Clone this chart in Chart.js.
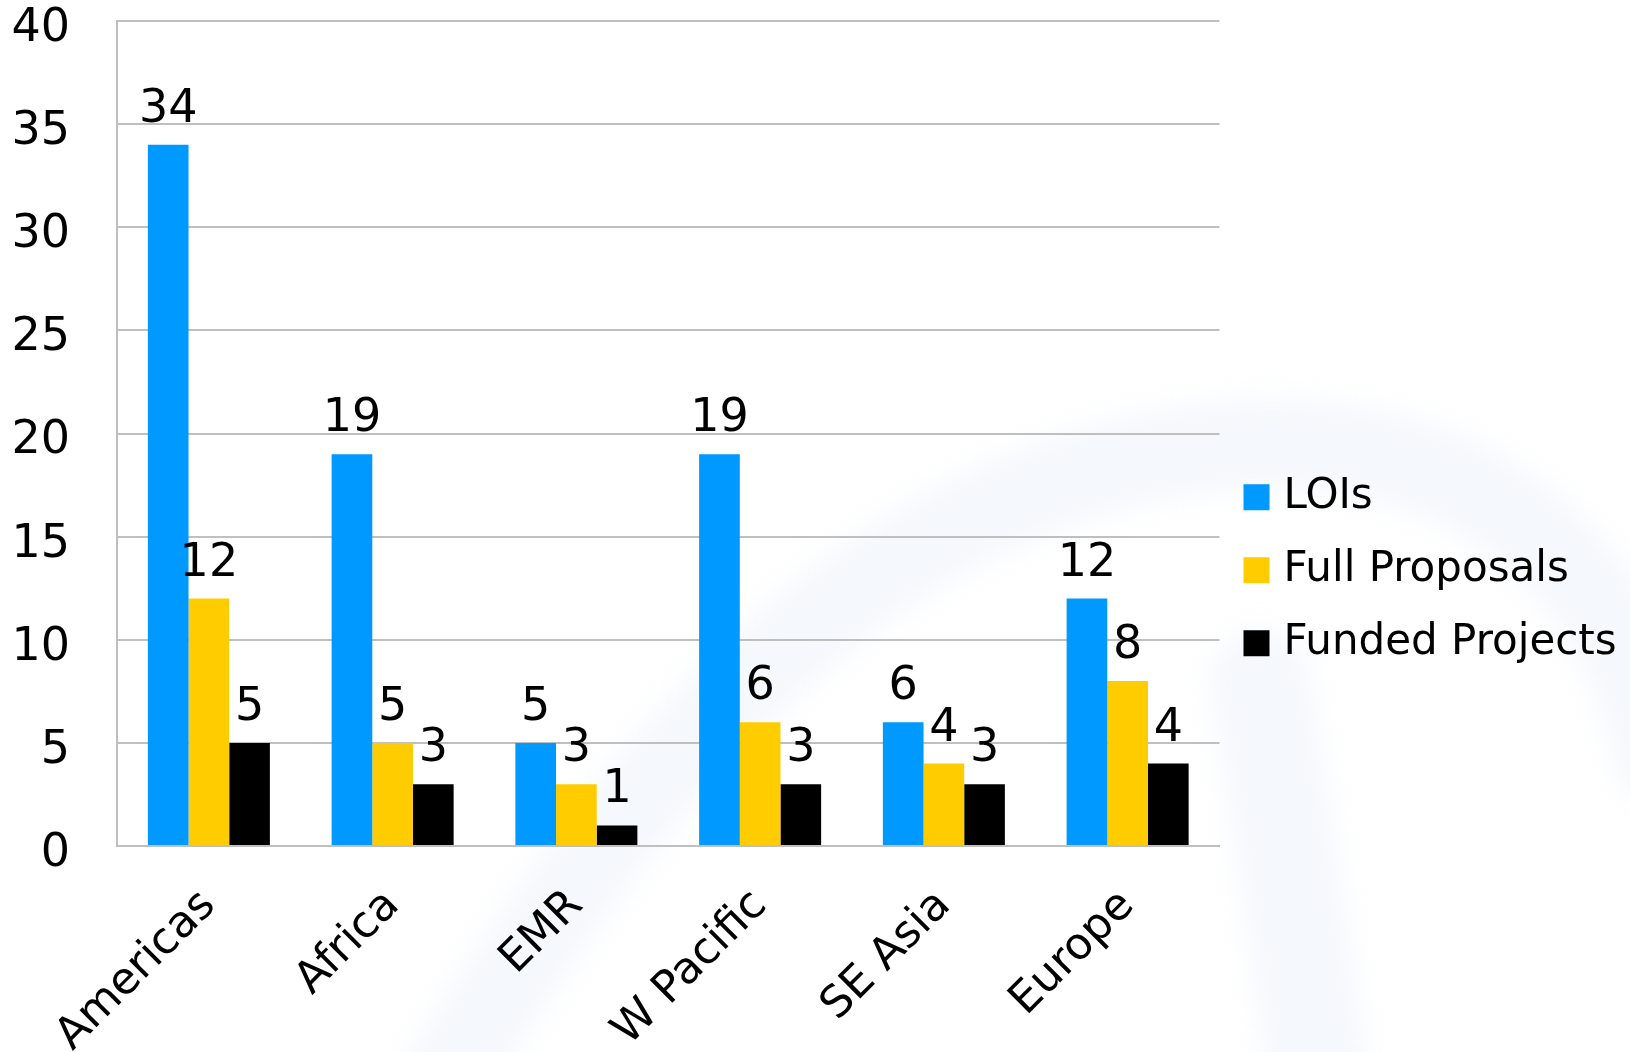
<!DOCTYPE html>
<html><head><meta charset="utf-8">
<script src="https://cdn.jsdelivr.net/npm/chart.js@4"></script>
<style>html,body{margin:0;padding:0;background:#fff;overflow:hidden}#wrap{width:1630px;height:1052px;position:relative}</style>
</head><body><div id="wrap"><canvas id="c" width="1630" height="1052"></canvas></div>
<script>
const categories = ['Americas', 'Africa', 'EMR', 'W Pacific', 'SE Asia', 'Europe'];
const seriesNames = ['LOIs', 'Full Proposals', 'Funded Projects'];
const lois = [34, 19, 5, 19, 6, 12];
const fullProposals = [12, 5, 3, 6, 4, 8];
const fundedProjects = [5, 3, 1, 3, 3, 4];
const seriesColors = ['#0099ff', '#ffcc00', '#000000'];
const yTicks = [0, 5, 10, 15, 20, 25, 30, 35, 40];

const FONT = '"DejaVu Sans", Verdana, sans-serif';

// faint background watermark (decoration only)
const watermark = {
  id: 'watermark',
  beforeDraw(chart) {
    const ctx = chart.ctx;
    ctx.save();
    ctx.filter = 'blur(14px)';
    ctx.strokeStyle = 'rgba(205,222,240,0.2)';
    ctx.lineCap = 'round';
    ctx.lineWidth = 90;
    ctx.beginPath();
    ctx.moveTo(440, 1090);
    ctx.bezierCurveTo(650, 740, 890, 470, 1240, 445);
    ctx.bezierCurveTo(1470, 432, 1620, 560, 1660, 760);
    ctx.stroke();
    ctx.lineWidth = 100;
    ctx.beginPath();
    ctx.moveTo(1260, 680);
    ctx.quadraticCurveTo(1290, 870, 1320, 1090);
    ctx.stroke();
    ctx.restore();
  }
};

const valueLabels = {
  id: 'valueLabels',
  afterDatasetsDraw(chart) {
    const ctx = chart.ctx;
    ctx.save();
    ctx.font = '46px ' + FONT;
    ctx.fillStyle = '#000';
    ctx.textAlign = 'center';
    ctx.textBaseline = 'alphabetic';
    chart.data.datasets.forEach((ds, i) => {
      chart.getDatasetMeta(i).data.forEach((el, j) => {
        ctx.fillText(String(ds.data[j]), el.x, el.y - 23);
      });
    });
    ctx.restore();
  }
};

const seriesData = [lois, fullProposals, fundedProjects];
new Chart(document.getElementById('c'), {
  type: 'bar',
  data: {
    labels: categories,
    datasets: seriesNames.map((n, i) => ({
      label: n,
      data: seriesData[i],
      backgroundColor: seriesColors[i],
      borderWidth: 0,
      categoryPercentage: 0.664,
      barPercentage: 1.0
    }))
  },
  options: {
    responsive: false,
    animation: false,
    devicePixelRatio: 1,
    layout: { padding: { top: 0, right: 4, bottom: 0, left: 0 } },
    plugins: {
      tooltip: { enabled: false },
      legend: {
        position: 'right',
        align: 'center',
        title: { display: true, text: ' ', padding: 37, font: { size: 12 } },
        labels: {
          usePointStyle: true, pointStyle: 'rect',
          boxWidth: 12, boxHeight: 26, padding: 31, color: '#000',
          font: { family: FONT, size: 42 }
        }
      }
    },
    scales: {
      x: {
        grid: { display: false, drawTicks: false },
        border: { display: true, color: '#bfbfbf', width: 2 },
        ticks: {
          color: '#000', font: { family: FONT, size: 44 },
          maxRotation: 45, minRotation: 45, padding: 34, autoSkip: false
        },
        afterFit(s) { s.height = 206; }
      },
      y: {
        min: 0, max: 40,
        afterBuildTicks(s) { s.ticks = yTicks.map(v => ({ value: v })); },
        ticks: { color: '#000', font: { family: FONT, size: 46, lineHeight: 1 }, padding: 47, labelOffset: 8 },
        grid: { color: '#bfbfbf', lineWidth: 2, drawTicks: false },
        border: { color: '#bfbfbf', width: 2 },
        afterFit(s) { s.width = 117; s.paddingTop = 21; s.paddingBottom = 0; }
      }
    }
  },
  plugins: [watermark, valueLabels]
});
</script></body></html>
